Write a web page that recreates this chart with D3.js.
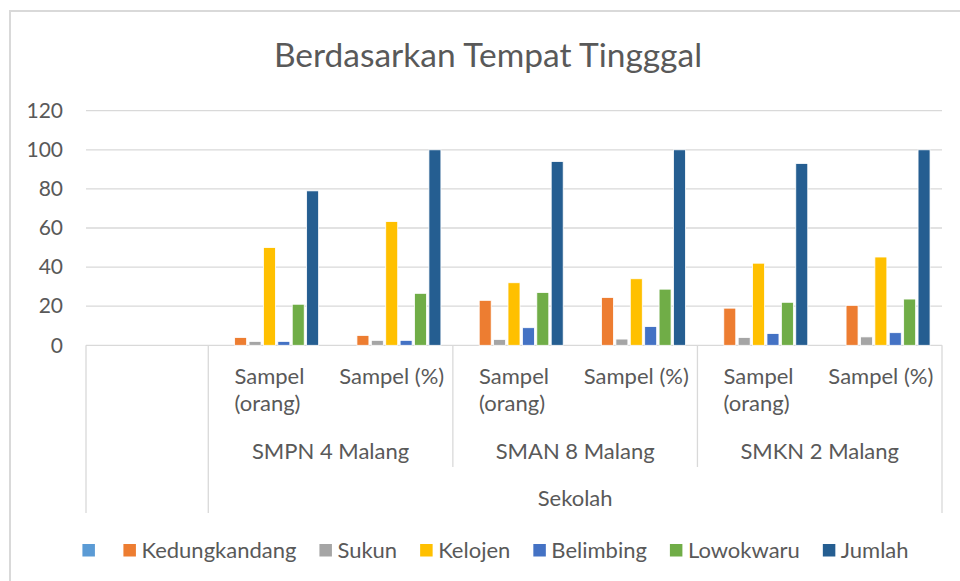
<!DOCTYPE html>
<html lang="id">
<head>
<meta charset="utf-8">
<title>Berdasarkan Tempat Tinggal</title>
<script src="https://cdn.jsdelivr.net/npm/d3@7"></script>
<style>
  body { margin: 0; background: #fff; }
  text { font-family: Lato, "Open Sans", sans-serif; fill: #595959; }
</style>
</head>
<body>
<div id="chart"></div>
<script>
// categories (first one is empty in the original sheet)
var subLabels = ["", "Sampel (orang)", "Sampel (%)", "Sampel (orang)", "Sampel (%)", "Sampel (orang)", "Sampel (%)"]
var groupLabels = ["", "SMPN 4 Malang", "SMAN 8 Malang", "SMKN 2 Malang"]
var axisTitle = "Sekolah"
var yTicks = [0, 20, 40, 60, 80, 100, 120]

// series
var seriesNames = ["", "Kedungkandang", "Sukun", "Kelojen", "Belimbing", "Lowokwaru", "Jumlah"]
var blank         = [null, null, null, null, null, null, null]
var kedungkandang = [null, 4, 5.06, 23, 24.47, 19, 20.43]
var sukun         = [null, 2, 2.53, 3, 3.19, 4, 4.30]
var kelojen       = [null, 50, 63.29, 32, 34.04, 42, 45.16]
var belimbing     = [null, 2, 2.53, 9, 9.57, 6, 6.45]
var lowokwaru     = [null, 21, 26.58, 27, 28.72, 22, 23.66]
var jumlah        = [null, 79, 100, 94, 100, 93, 100]
var colors = ["#5B9BD5", "#ED7D31", "#A5A5A5", "#FFC000", "#4472C4", "#70AD47", "#255E91"]

var allSeries = [blank, kedungkandang, sukun, kelojen, belimbing, lowokwaru, jumlah]

var W = 960, H = 581
var plotL = 86, plotR = 942, plotT = 110.7, plotB = 345.3
var fs = "22px"

var svg = d3.select("#chart").append("svg")
  .attr("width", W).attr("height", H)

// chart frame
svg.append("rect")
  .attr("x", 10).attr("y", 11).attr("width", 1000).attr("height", 700)
  .attr("fill", "none").attr("stroke", "#d9d9d9").attr("stroke-width", 2)

// title
svg.append("text")
  .attr("x", 488).attr("y", 67)
  .attr("text-anchor", "middle")
  .style("font-size", "33.5px")
  .text("Berdasarkan Tempat Tingggal")

var x = d3.scaleBand().domain(d3.range(subLabels.length)).range([plotL, plotR]).padding(0)
var xs = d3.scaleBand().domain(d3.range(allSeries.length)).range([0, x.bandwidth()])
  .paddingInner(0.167).paddingOuter(0.83)
var y = d3.scaleLinear().domain([0, 120]).range([plotB, plotT])

// gridlines
svg.append("g").selectAll("line").data(yTicks).enter().append("line")
  .attr("x1", plotL).attr("x2", plotR)
  .attr("y1", function(d){ return y(d) }).attr("y2", function(d){ return y(d) })
  .attr("stroke", "#d9d9d9").attr("stroke-width", 1.3)

// y axis labels
var yAxis = d3.axisLeft(y).tickValues(yTicks).tickSize(0).tickPadding(23)
var gy = svg.append("g").attr("transform", "translate(" + plotL + ",0)").call(yAxis)
gy.select(".domain").remove()
gy.selectAll("text").style("font-size", "21px").attr("fill", "#595959")
  .style("font-family", "Lato, sans-serif")

// bars
allSeries.forEach(function(vals, s){
  var pts = vals.map(function(v, i){ return {i: i, v: v} })
    .filter(function(d){ return d.v != null })
  svg.append("g").selectAll("rect").data(pts).enter()
    .append("rect")
    .attr("x", function(d){ return x(d.i) + xs(s) })
    .attr("y", function(d){ return y(d.v) })
    .attr("width", xs.bandwidth())
    .attr("height", function(d){ return y(0) - y(d.v) })
    .attr("fill", colors[s])
    .attr("stroke", "#fff").attr("stroke-width", 0.8)
})

// category axis lines
var ax = svg.append("g").attr("stroke", "#d9d9d9").attr("stroke-width", 1.3)
;[0, 1, 7].forEach(function(i){
  var xx = i < 7 ? x(i) : plotR
  ax.append("line").attr("x1", xx).attr("x2", xx).attr("y1", plotB).attr("y2", 513)
})
;[3, 5].forEach(function(i){
  ax.append("line").attr("x1", x(i)).attr("x2", x(i)).attr("y1", plotB).attr("y2", 467)
})

// sub category labels (wrapped when too wide)
subLabels.forEach(function(lab, i){
  if(!lab) return
  var t = svg.append("text")
    .attr("x", x(i) + x.bandwidth()/2).attr("y", 384)
    .attr("text-anchor", "middle")
    .style("font-size", fs)
    .text(lab)
  if(t.node().getComputedTextLength() > x.bandwidth() - 8){
    var words = lab.split(" ")
    t.text(null)
    var w1 = t.append("tspan").text(words[0])
    var w2 = t.append("tspan").text(words.slice(1).join(" "))
    var lw = Math.max(w1.node().getComputedTextLength(), w2.node().getComputedTextLength())
    var x0 = x(i) + x.bandwidth()/2 - lw/2
    t.attr("text-anchor", "start")
    w1.attr("x", x0).attr("y", 384)
    w2.attr("x", x0).attr("y", 411)
  }
})

// group labels
groupLabels.forEach(function(lab, g){
  if(!lab) return
  var i = 2*g - 1
  svg.append("text")
    .attr("x", x(i) + x.bandwidth())
    .attr("y", 459)
    .attr("text-anchor", "middle")
    .style("font-size", fs)
    .text(lab)
})

svg.append("text")
  .attr("x", (x(1) + plotR)/2).attr("y", 506)
  .attr("text-anchor", "middle")
  .style("font-size", fs)
  .text(axisTitle)

// legend
var leg = svg.append("g")
var cx = 0, gap = 23
seriesNames.forEach(function(name, s){
  var item = leg.append("g").attr("transform", "translate(" + cx + ",0)")
  item.append("rect").attr("x", 0).attr("y", -6).attr("width", 12.5).attr("height", 12.5)
    .attr("fill", colors[s])
  var t = item.append("text").attr("x", 18).attr("y", 0).attr("dy", "0.35em")
    .style("font-size", fs).text(name)
  var tw = name ? t.node().getComputedTextLength() : 0
  cx += 18 + tw + gap
})
var legW = cx - gap
leg.attr("transform", "translate(" + (495.5 - legW/2) + ",550)")
</script>
</body>
</html>
